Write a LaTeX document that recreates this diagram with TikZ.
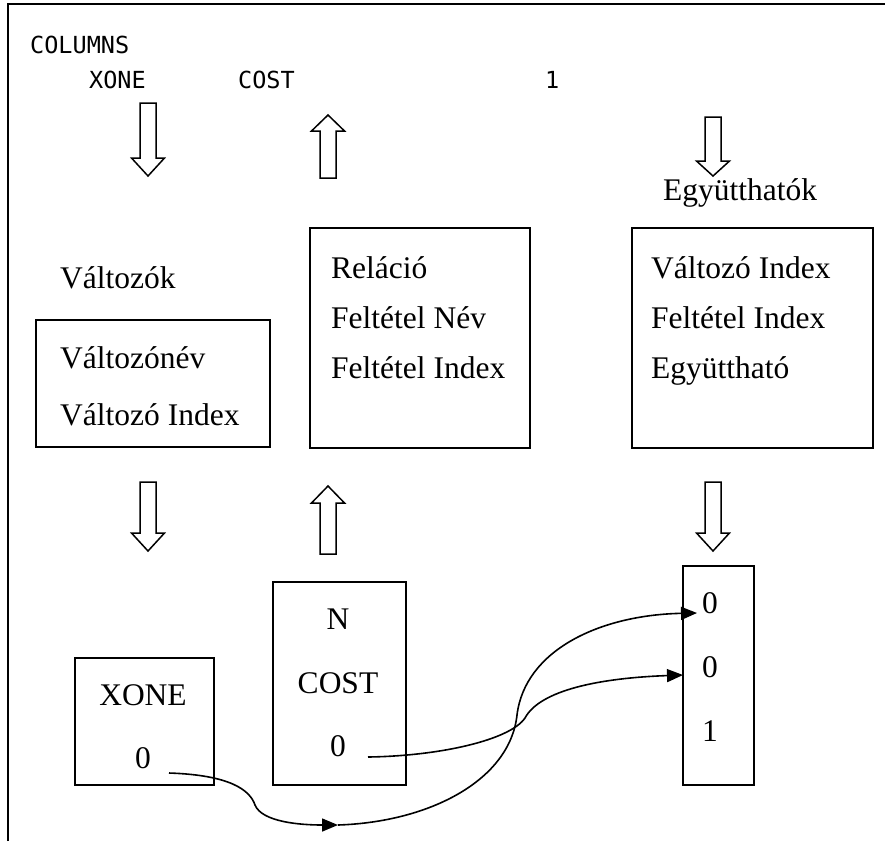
\documentclass[tikz,border=0pt]{standalone}
\usepackage{fontspec}
\setmainfont{Liberation Serif}
\newfontfamily\codefont{DejaVu Sans Mono}
\usetikzlibrary{arrows.meta}

\tikzset{
  frame/.style={line width=1.6pt},
  box/.style={draw, line width=1.8pt, rectangle, inner sep=0pt, anchor=north west},
  label/.style={font=\fontsize{31.5}{36}\selectfont, inner sep=0pt, anchor=base west},
  clabel/.style={font=\fontsize{31.5}{36}\selectfont, inner sep=0pt, anchor=base},
  code/.style={font=\codefont\fontsize{23.5}{28}\selectfont, inner sep=0pt, anchor=base west},
  blockarrow/.style={draw, line width=1.5pt, line join=miter, fill=white},
  link/.style={line width=1.6pt, -{Triangle[length=16pt,width=13pt]}}
}

% hollow block arrow: x centre, tail y, head-base y, tip y
\newcommand\hollowarrow[4]{%
  \draw[blockarrow] ({#1-8},#2) -- ({#1+8},#2) -- ({#1+8},#3) -- ({#1+16.5},#3)
    -- (#1,#4) -- ({#1-16.5},#3) -- ({#1-8},#3) -- cycle;}

\begin{document}
\begin{tikzpicture}[x=1pt,y=-1pt]
\useasboundingbox (0,0) rectangle (885,841);

% page frame
\draw[frame] (8,841) -- (8,4) -- (885,4);

% MPS record line
\node[code] (cols)  at (30,53)  {COLUMNS};
\node[code] (cxone) at (89,88)  {XONE};
\node[code] (ccost) at (238,88) {COST};
\node[code] (cone)  at (545,88) {1};

% upper block arrows
\hollowarrow{148}{103}{158}{176}
\hollowarrow{328}{178}{131}{115}
\hollowarrow{713}{117}{161}{176}

% record structures
\node[label] (coefs) at (663,200) {Együtthatók};
\node[label] (vars)  at (60,288)  {Változók};

\node[box, minimum width=234, minimum height=127] (varbox) at (35,319) {};
\node[label] (vname) at (60,368) {Változónév};
\node[label] (vidx)  at (60,425) {Változó Index};

\node[box, minimum width=220, minimum height=220] (rowbox) at (309,227) {};
\node[label] (rrel)  at (331,278) {Reláció};
\node[label] (rname) at (331,328) {Feltétel Név};
\node[label] (ridx)  at (331,378) {Feltétel Index};

\node[box, minimum width=241, minimum height=220] (coefbox) at (631,227) {};
\node[label] (kvar) at (651,278) {Változó Index};
\node[label] (krow) at (651,328) {Feltétel Index};
\node[label] (kval) at (651,378) {Együttható};

% lower block arrows
\hollowarrow{148}{482}{533}{551}
\hollowarrow{328}{554}{503}{486}
\hollowarrow{713}{482}{533}{551}

% stored values
\node[box, minimum width=139, minimum height=127] (xbox) at (74,657) {};
\node[clabel] (xname) at (143,705) {XONE};
\node[clabel] (xval)  at (143,768) {0};

\node[box, minimum width=133, minimum height=203] (nbox) at (272,581) {};
\node[clabel] (nrel)  at (338,629) {N};
\node[clabel] (nname) at (338,693) {COST};
\node[clabel] (nval)  at (338,756) {0};

\node[box, minimum width=71, minimum height=219] (kbox) at (682,565) {};
\node[clabel] (k1) at (710,613) {0};
\node[clabel] (k2) at (710,677) {0};
\node[clabel] (k3) at (710,741) {1};

% link end points
\coordinate (xout) at (169,773);
\coordinate (mid)  at (338,825);
\coordinate (nout) at (368,757);
\coordinate (k1in) at (697,613);
\coordinate (k2in) at (683,675);

% links between the stored values
\draw[link] (xout) .. controls (230,775) and (250,790) .. (255,805)
  .. controls (262,822) and (300,825) .. (mid);
\draw[link] (mid) .. controls (430,822) and (510,780) .. (517,715)
  .. controls (525,650) and (600,615) .. (k1in);
\draw[link] (nout) .. controls (440,756) and (510,740) .. (525,718)
  .. controls (540,690) and (600,678) .. (k2in);
\end{tikzpicture}
\end{document}
